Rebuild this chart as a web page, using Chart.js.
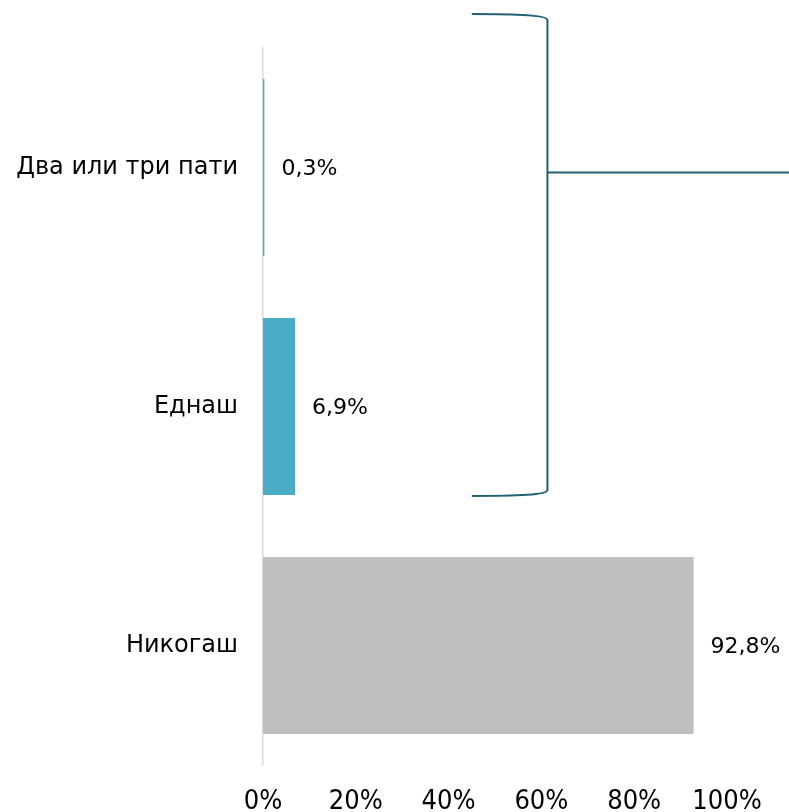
<!DOCTYPE html>
<html>
<head>
<meta charset="utf-8">
<script src="https://cdn.jsdelivr.net/npm/chart.js@4/dist/chart.umd.min.js"></script>
<style>
html,body{margin:0;padding:0;background:#fff;}
#wrap{width:789px;height:812px;position:relative;}
</style>
</head>
<body>
<div id="wrap"><canvas id="c" width="789" height="812"></canvas></div>
<script>
const categories = ["Два или три пати", "Еднаш", "Никогаш"];
const values = [0.3, 6.9, 92.8];
const valueLabels = ["0,3%", "6,9%", "92,8%"];
const barColors = ["#4BACC6", "#4BACC6", "#BFBFBF"];
const tickValues = [0, 20, 40, 60, 80, 100];

const FONT = "'DejaVu Sans', 'Liberation Sans', sans-serif";
const TICK_FONT = "'Liberation Sans Narrow', 'DejaVu Sans Condensed', 'Liberation Sans', sans-serif";

const valueLabelPlugin = {
  id: 'valueLabels',
  afterDatasetsDraw(chart) {
    const ctx = chart.ctx;
    const meta = chart.getDatasetMeta(0);
    ctx.save();
    ctx.font = "22px " + FONT;
    ctx.fillStyle = "#000";
    ctx.textAlign = "left";
    ctx.textBaseline = "middle";
    meta.data.forEach((bar, i) => {
      ctx.fillText(valueLabels[i], bar.x + 17, bar.y + 2);
    });
    ctx.restore();
  }
};

const bracketPlugin = {
  id: 'bracket',
  afterDraw(chart) {
    const ctx = chart.ctx;
    const xs = chart.scales.x;
    const meta = chart.getDatasetMeta(0);
    const b0 = meta.data[0], b1 = meta.data[1];
    const left = xs.getPixelForValue(45);
    const right = xs.getPixelForValue(61.3);
    const top = b0.y - b0.height / 2 - 65;
    const bottom = b1.y + b1.height / 2 + 1;
    const midY = b0.y + 5;
    ctx.save();
    ctx.strokeStyle = "#215F75";
    ctx.lineWidth = 2;
    ctx.beginPath();
    ctx.moveTo(left, top);
    ctx.bezierCurveTo(right - 30, top, right, top + 1, right, top + 6);
    ctx.lineTo(right, bottom - 6);
    ctx.bezierCurveTo(right, bottom - 1, right - 30, bottom, left, bottom);
    ctx.stroke();
    ctx.beginPath();
    ctx.moveTo(right, midY);
    ctx.lineTo(chart.width, midY);
    ctx.stroke();
    ctx.restore();
  }
};

new Chart(document.getElementById('c'), {
  type: 'bar',
  data: {
    labels: categories,
    datasets: [{
      data: values,
      backgroundColor: barColors,
      borderWidth: 0,
      barPercentage: 0.74,
      categoryPercentage: 1.0
    }]
  },
  options: {
    indexAxis: 'y',
    responsive: false,
    animation: false,
    devicePixelRatio: 1,
    layout: { padding: { top: 48, right: 62, left: 0, bottom: 0 } },
    plugins: { legend: { display: false }, tooltip: { enabled: false } },
    scales: {
      x: {
        min: 0, max: 100,
        afterBuildTicks(axis) { axis.ticks = tickValues.map(v => ({ value: v })); },
        afterFit(axis) { axis.height = 47; },
        grid: { display: false, drawTicks: false },
        border: { display: false },
        ticks: {
          padding: 21,
          color: "#000",
          font: { family: TICK_FONT, size: 27 },
          callback: (v) => v + "%"
        }
      },
      y: {
        afterFit(axis) { axis.width = 263; },
        grid: { display: false, drawTicks: false },
        border: { display: true, color: "#D9D9D9", width: 1.5 },
        ticks: {
          padding: 25,
          color: "#000",
          font: { family: FONT, size: 24 }
        }
      }
    }
  },
  plugins: [valueLabelPlugin, bracketPlugin]
});
</script>
</body>
</html>
